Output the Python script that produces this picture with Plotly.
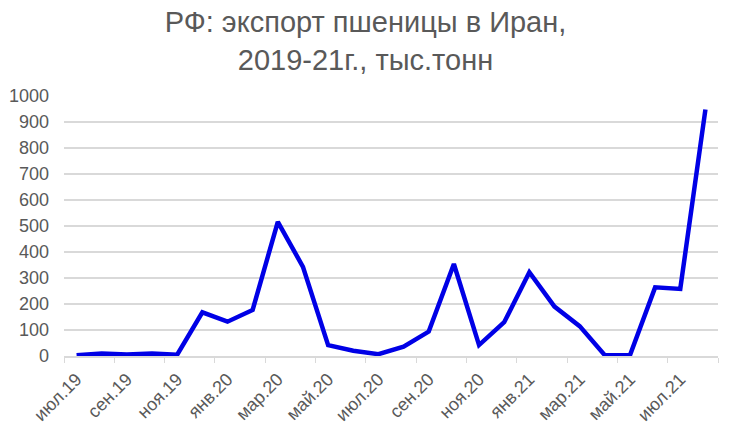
import plotly.graph_objects as go

months = ["июл.19", "авг.19", "сен.19", "окт.19", "ноя.19", "дек.19",
          "янв.20", "фев.20", "мар.20", "апр.20", "май.20", "июн.20",
          "июл.20", "авг.20", "сен.20", "окт.20", "ноя.20", "дек.20",
          "янв.21", "фев.21", "мар.21", "апр.21", "май.21", "июн.21",
          "июл.21", "авг.21"]
export_kt = [3, 10, 6, 10, 5, 168,
             132, 177, 516, 343, 42, 20,
             7, 36, 94, 354, 42, 130,
             322, 190, 115, 3, 3, 264,
             258, 948]
y_ticks = [0, 100, 200, 300, 400, 500, 600, 700, 800, 900, 1000]

fig = go.Figure()
fig.add_trace(go.Scatter(
    x=months, y=export_kt, mode="lines",
    line=dict(color="#0000e6", width=4.5),
    hoverinfo="x+y",
))

fig.update_layout(
    width=731, height=431,
    margin=dict(l=64, r=13, t=96, b=75),
    paper_bgcolor="white", plot_bgcolor="white",
    showlegend=False,
    font=dict(family="Liberation Sans, Arial, sans-serif", color="#595959"),
    title=dict(
        text="РФ: экспорт пшеницы в Иран,<br>2019-21г., тыс.тонн",
        x=0.5, xref="container", xanchor="center",
        y=0.926, yref="container", yanchor="middle",
        font=dict(size=29, color="#595959"),
    ),
    xaxis=dict(
        type="category",
        categoryorder="array", categoryarray=months,
        range=[-0.5, len(months) - 0.5],
        dtick=2, tickson="boundaries",
        tickangle=-45,
        ticks="outside", ticklen=5, tickcolor="#d9d9d9",
        showline=True, linecolor="#d9d9d9", linewidth=1.5,
        showgrid=False, automargin=False,
        ticklabelstandoff=4,
        tickfont=dict(size=18, color="#595959"),
    ),
    yaxis=dict(
        range=[0, 1000],
        tickmode="array", tickvals=y_ticks,
        showgrid=True, gridcolor="#d9d9d9", gridwidth=1.5,
        zeroline=False, showline=False, automargin=False,
        ticklabelstandoff=14,
        tickfont=dict(size=18, color="#595959"),
    ),
)

fig.write_html(
    "out.html",
    config={"displayModeBar": False},
    post_script="document.body.style.margin='0';document.body.style.overflow='hidden';",
)
